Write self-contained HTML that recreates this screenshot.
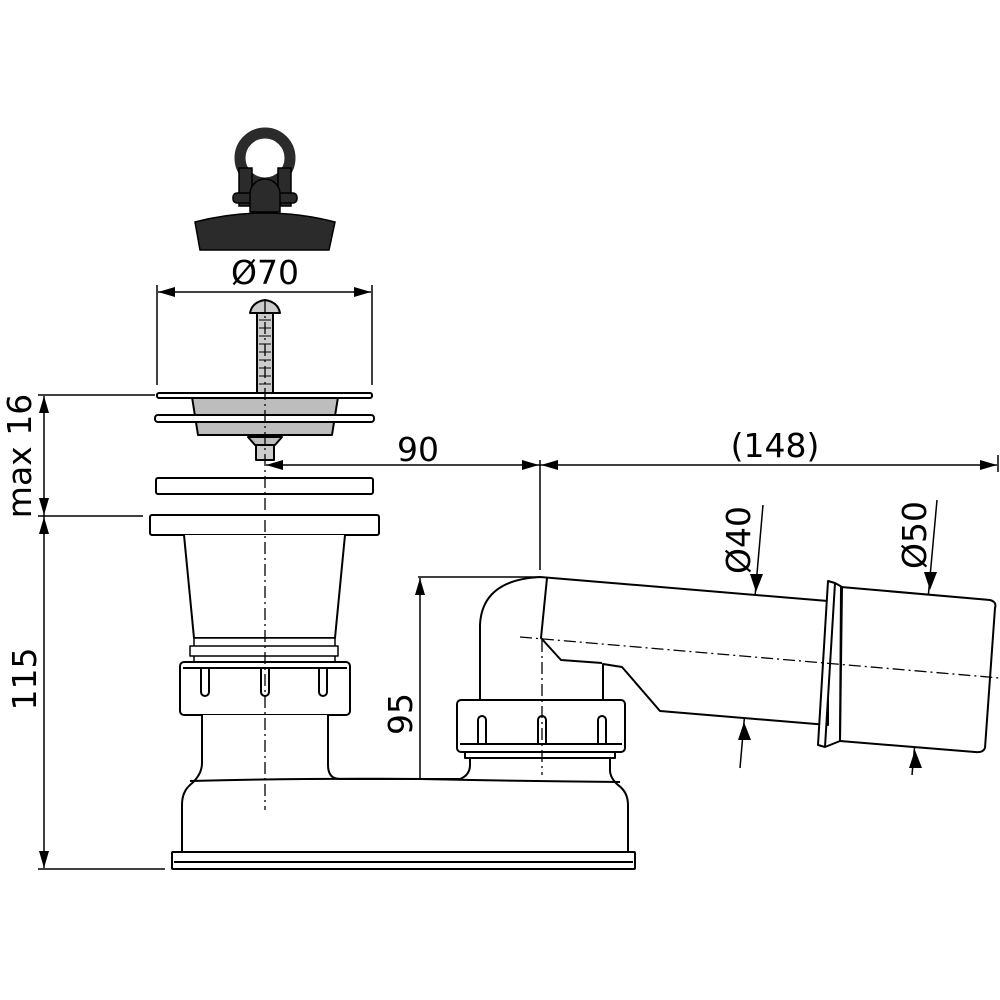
<!DOCTYPE html>
<html><head><style>html,body{margin:0;padding:0;background:#fff}svg{display:block}</style></head><body>
<svg width="1000" height="1000" viewBox="0 0 1000 1000" xmlns="http://www.w3.org/2000/svg" font-family="DejaVu Sans, Liberation Sans, sans-serif">
<g fill="none" stroke="#000" stroke-width="1.5">
<path d="M38,395H155M38,516H143M38,869H165M157,285V385M372,285V385M540,460V570M998,455V472M418,577H540"/>
<path d="M44,396V868M158,292H371M266,465H997M420,578V868"/>
<path d="M763,505L740,768M937,500L912,775"/>
</g>
<g fill="#000">
<!-- vertical left dims -->
<path d="M44,396l-5,17h10z M44,515l-5,-17h10z M44,517l-5,17h10z M44,868l-5,-17h10z"/>
<path d="M158,292l17,-5v10z M371,292l-17,-5v10z"/>
<path d="M266,465l17,-5v10z M539,465l-17,-5v10z M541,465l17,-5v10z M997,465l-17,-5v10z"/>
<path d="M420,578l-5,17h10z M420,868l-5,-17h10z"/>
<path d="M756,592l-6,-18h13z M744,722l-6,18h13z M930,590l-6,-18h13z M915,750l-6,18h13z"/>
</g>
<g fill="#2b2b2b" stroke="#000" stroke-width="1.5">
<ellipse cx="265" cy="158" rx="25" ry="25" fill="none" stroke="#2b2b2b" stroke-width="11"/>
<rect x="239" y="168" width="13" height="38" />
<rect x="278" y="168" width="13" height="38" />
<rect x="233" y="193" width="64" height="10" rx="4"/>
<path d="M250,212V194a15,15 0 0 1 30,0V212z"/>
<path d="M195,222Q265,204 335,222L329,250H200z"/>
</g>
<g stroke="#000" stroke-width="2" fill="#fff" stroke-linejoin="round">
<path d="M250,313Q252,302 265,300Q278,302 280,313z" fill="#ccc"/>
<rect x="257" y="313" width="16" height="80" fill="#ccc"/>
<path d="M259,320h12M259,328h12M259,336h12M259,344h12M259,352h12M259,360h12M259,368h12M259,376h12M259,384h12" stroke-width="1"/>
<path d="M192,397L198,435H332L338,397z" fill="#bdbdbd"/>
<rect x="157" y="393" width="215" height="5" rx="2" fill="#fff"/>
<rect x="155" y="415" width="219" height="7" rx="3" fill="#fff"/>
<path d="M248,437h34l-7,8h-20z" fill="#bdbdbd"/>
<rect x="256" y="445" width="18" height="15" fill="#ccc"/>
<rect x="156" y="478" width="217" height="16" rx="2"/>
<rect x="150" y="515" width="229" height="20" rx="2"/>
<path d="M184,535L194,638H335L345,535"/>
<path d="M194,638h141v8H194z M190,646h148v10H190z M194,656h141v6H194z" stroke-width="1.5"/>
<rect x="180" y="662" width="170" height="53" rx="4"/>
<path d="M183,668H347M201,668v24a4,4 0 0 0 8,0V668M261,668v24a4,4 0 0 0 8,0V668M319,668v24a4,4 0 0 0 8,0V668" fill="none"/>
<path d="M202,715V763Q202,775 190,785Q182,792 182,805V852H628V805Q628,792 618,785Q610,778 610,770V752H470V765Q470,775 460,779H340Q328,779 328,765V715"/>
<path d="M190,781Q300,778 420,779Q520,781 620,782" fill="none"/>
<rect x="172" y="852" width="463" height="17" rx="1"/>
<path d="M174,862H633" fill="none"/>
<path d="M480,700V625Q482,580 540,577L828,601V725L660,711L622,667L603,664V700"/>
<path d="M547,578L541,638L561,660L602,663" fill="none"/>
<path d="M841,587L990,600Q997,602 995,608L985,748Q983,753 975,752L840,741z"/>
<path d="M828,581L835,583L825,747L818,745z"/>
<path d="M835,583L842,587L840,741L825,747" fill="none"/>
<rect x="457" y="700" width="168" height="52" rx="4"/>
<path d="M460,744H622M478,744V720a4,4 0 0 1 8,0V744M538,744V720a4,4 0 0 1 8,0V744M598,744V720a4,4 0 0 1 8,0V744" fill="none"/>
<path d="M465,752h150v6H465z"/>
</g>
<g stroke="#000" stroke-width="1.3" stroke-dasharray="12,4,2,4" fill="none">
<path d="M265,300V810M542,640V775M520,637L1000,678"/>
</g>
<g font-size="33" fill="#000">
<text x="265" y="284" text-anchor="middle">Ø70</text>
<text x="418" y="461" text-anchor="middle">90</text>
<text x="775" y="457" text-anchor="middle">(148)</text>
<text transform="translate(31,456) rotate(-90)" text-anchor="middle">max 16</text>
<text transform="translate(36,679) rotate(-90)" text-anchor="middle">115</text>
<text transform="translate(412,714) rotate(-90)" text-anchor="middle">95</text>
<text transform="translate(750,540) rotate(-90)" text-anchor="middle">Ø40</text>
<text transform="translate(926,535) rotate(-90)" text-anchor="middle">Ø50</text>
</g>
</svg>
</body></html>
